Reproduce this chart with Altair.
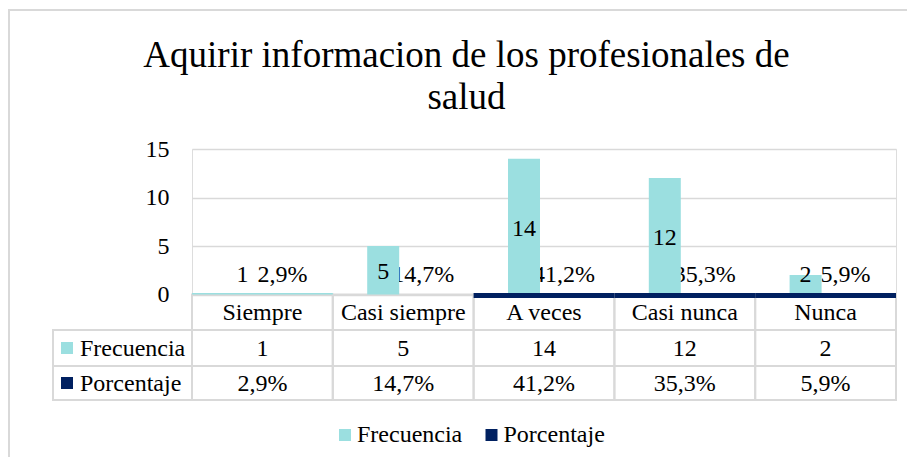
import altair as alt
import pandas as pd

# ---------------- data ----------------
categorias = ["Siempre", "Casi siempre", "A veces", "Casi nunca", "Nunca"]
frecuencia = [1, 5, 14, 12, 2]
porcentaje = [2.9, 14.7, 41.2, 35.3, 5.9]
porcentaje_txt = ["2,9%", "14,7%", "41,2%", "35,3%", "5,9%"]
y_ticks = [0, 5, 10, 15]
series = ["Frecuencia", "Porcentaje"]
colores = ["#9BDFE0", "#002060"]
titulo = ["Aquirir informacion de los profesionales de", "salud"]
# in the original, these categories' bars collapse into a flat line on the base
linea_porcentaje = ["A veces", "Casi nunca", "Nunca"]
linea_frecuencia = ["Siempre"]

FONT = "'Liberation Serif', 'Times New Roman', 'DejaVu Serif', serif"
GRID = "#d9d9d9"
FS = 24

df = pd.DataFrame({"cat": categorias, "frec": frecuencia, "pct": porcentaje,
                   "pct_txt": porcentaje_txt})
df_series = pd.DataFrame({"serie": series, "color": colores})

base = alt.Chart(df)
xs = alt.X("cat:N", sort=categorias,
           scale=alt.Scale(domain=categorias, paddingInner=0, paddingOuter=0),
           axis=None)
yscale = alt.Scale(domain=[0, 15], nice=False)
ys = alt.Y("frec:Q", scale=yscale,
           axis=alt.Axis(values=y_ticks, grid=True, gridColor=GRID, gridWidth=1.5,
                         domain=False, ticks=False, labelPadding=23,
                         labelFont=FONT, labelFontSize=FS, labelColor="#000000",
                         title=None))
colscale = alt.Scale(domain=series, range=colores)

one = alt.Chart(df_series).transform_filter(alt.datum.serie == series[0])

# frame of the chart area
frame_left = one.mark_rule(color=GRID, strokeWidth=2).encode(
    x=alt.value(-183), y=alt.value(-139), y2=alt.value(320))
frame_top = one.mark_rule(color=GRID, strokeWidth=2).encode(
    y=alt.value(-139), x=alt.value(-184), x2=alt.value(720))

txt = dict(font=FONT, fontSize=FS, color="#000000")

title_mark = one.mark_text(font=FONT, fontSize=37, color="#000000", align="center",
                           baseline="alphabetic", lineHeight=42).encode(
    x=alt.value(274.5), y=alt.value(-82), text=alt.value(titulo))

# data table cells
def cells(y0, y1):
    return base.mark_rect(fillOpacity=0, stroke=GRID, strokeWidth=2).encode(
        x=xs, y=alt.value(y0), y2=alt.value(y1))

cell_hdr = cells(145.5, 181)
cell_f = cells(181, 217)
cell_p = cells(217, 251)

def left_cell(serie, y0, y1):
    return alt.Chart(df_series).transform_filter(alt.datum.serie == serie).mark_rect(
        fillOpacity=0, stroke=GRID, strokeWidth=2).encode(
        x=alt.value(-139), x2=alt.value(0), y=alt.value(y0), y2=alt.value(y1))

lc_f = left_cell("Frecuencia", 181, 217)
lc_p = left_cell("Porcentaje", 217, 251)

hdr_text = base.mark_text(baseline="alphabetic", **txt).encode(x=xs, y=alt.value(171), text="cat:N")
f_text = base.mark_text(baseline="alphabetic", **txt).encode(x=xs, y=alt.value(207), text="frec:Q")
p_text = base.mark_text(baseline="alphabetic", **txt).encode(x=xs, y=alt.value(242), text="pct_txt:N")

def left_label(serie, yc, yb):
    sel = alt.Chart(df_series).transform_filter(alt.datum.serie == serie)
    sq = sel.mark_square(size=144, opacity=1).encode(
        x=alt.value(-125), y=alt.value(yc),
        color=alt.Color("serie:N", scale=colscale, legend=None))
    tx = sel.mark_text(align="left", baseline="alphabetic", **txt).encode(
        x=alt.value(-112), y=alt.value(yb), text="serie:N")
    return sq + tx

ll_f = left_label("Frecuencia", 199, 207)
ll_p = left_label("Porcentaje", 234, 242)

# bottom legend
def legend_item(serie, xc):
    sel = alt.Chart(df_series).transform_filter(alt.datum.serie == serie)
    sq = sel.mark_square(size=144, opacity=1).encode(
        x=alt.value(xc), y=alt.value(286),
        color=alt.Color("serie:N", scale=colscale, legend=None))
    tx = sel.mark_text(align="left", baseline="alphabetic", **txt).encode(
        x=alt.value(xc + 12), y=alt.value(293), text="serie:N")
    return sq + tx

lg_f = legend_item("Frecuencia", 153)
lg_p = legend_item("Porcentaje", 299.5)

# plot marks
grid_layer = base.mark_bar(width=32, xOffset=-20, opacity=0).encode(x=xs, y=ys)

pct_labels = base.mark_text(dx=20, dy=2, **txt).encode(
    x=xs, y=alt.datum(2.2), text="pct_txt:N")

bars = base.transform_filter(
    ~alt.FieldOneOfPredicate(field="cat", oneOf=linea_frecuencia)).mark_bar(
    width=32, xOffset=-20, color=colores[0]).encode(x=xs, y=ys)

frec_labels = base.transform_calculate(ylab="max(datum.frec / 2, 2.2)").mark_text(
    dx=-20, dy=2, **txt).encode(x=xs, y=alt.Y("ylab:Q", scale=yscale), text="frec:Q")

navy_line = base.transform_filter(
    alt.FieldOneOfPredicate(field="cat", oneOf=linea_porcentaje)).mark_rect(
    color=colores[1], yOffset=-1.5, y2Offset=3.5).encode(x=xs, y=alt.datum(0), y2=alt.datum(0))

cyan_line = base.transform_filter(
    alt.FieldOneOfPredicate(field="cat", oneOf=linea_frecuencia)).mark_rect(
    color=colores[0], yOffset=-1.5, y2Offset=0).encode(x=xs, y=alt.datum(0), y2=alt.datum(0))

chart = alt.layer(
    frame_left, frame_top, title_mark,
    grid_layer,
    cell_hdr, cell_f, cell_p, lc_f, lc_p,
    hdr_text, f_text, p_text, ll_f, ll_p,
    pct_labels, bars, frec_labels, navy_line, cyan_line,
    lg_f, lg_p,
).properties(
    width=704, height=145.5,
    padding={"left": 184, "top": 141, "right": 11, "bottom": 162},
    autosize=alt.AutoSizeParams(type="none"),
).configure_view(stroke=None).configure(background="white")

chart.save("out.html", embed_options={"renderer": "svg", "actions": False})
